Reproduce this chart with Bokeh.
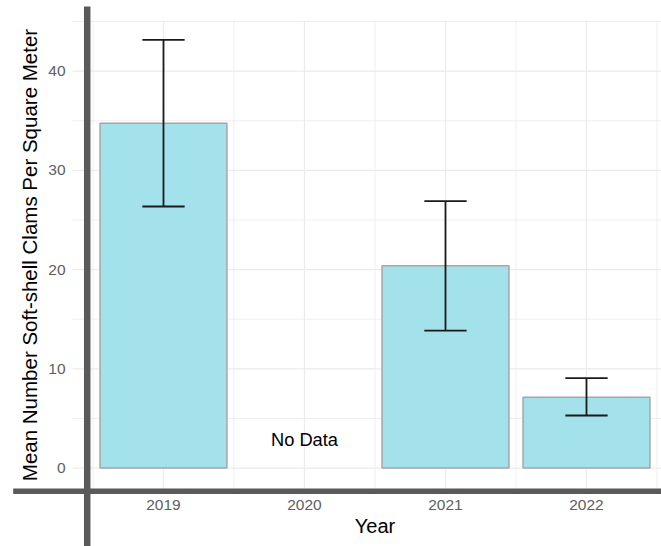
import math
from bokeh.plotting import figure
from bokeh.models import Range1d, FixedTicker
from bokeh.core.properties import value
from bokeh.embed import file_html
from bokeh.resources import INLINE

# ---- data ----
years = [2019, 2021, 2022]
means = [34.75, 20.4, 7.14]
upper = [43.15, 26.9, 9.06]
lower = [26.36, 13.85, 5.30]
tick_years = [2019, 2020, 2021, 2022]
minor_years = [2018.5, 2019.5, 2020.5, 2021.5, 2022.5]
y_ticks = [0, 10, 20, 30, 40]
y_minor = [5, 15, 25, 35, 45]
no_data_year = 2020
no_data_text = "No Data"
x_title = "Year"
y_title = "Mean Number Soft-shell Clams Per Square Meter"

FONT = "Liberation Sans"

# panel (ggplot-like) limits
x_lo, x_hi = 2018.355, 2022.645
y_lo, y_hi = -2.16, 45.1
X0, X1 = 2017.844, 2022.532
Y0, Y1 = -7.899, 47.113

p = figure(width=661, height=546, output_backend="svg", toolbar_location=None,
           x_range=Range1d(X0, X1), y_range=Range1d(Y0, Y1),
           min_border_left=0, min_border_right=0, min_border_top=0, min_border_bottom=0)
p.outline_line_color = None
p.background_fill_color = "white"
p.xgrid.visible = False
p.ygrid.visible = False

# grid lines bounded to the panel
GRID = "#ebebeb"
p.segment(x0=tick_years, x1=tick_years, y0=[y_lo] * len(tick_years), y1=[y_hi] * len(tick_years),
          line_color=GRID, line_width=1.2)
p.segment(x0=minor_years, x1=minor_years, y0=[y_lo] * len(minor_years), y1=[y_hi] * len(minor_years),
          line_color=GRID, line_width=0.8)
p.segment(x0=[x_lo] * len(y_ticks), x1=[x_hi] * len(y_ticks), y0=y_ticks, y1=y_ticks,
          line_color=GRID, line_width=1.2)
p.segment(x0=[x_lo] * len(y_minor), x1=[x_hi] * len(y_minor), y0=y_minor, y1=y_minor,
          line_color=GRID, line_width=0.8)

# axes placed at the panel edges
p.xaxis.fixed_location = y_lo
p.yaxis.fixed_location = x_lo
p.xaxis.ticker = FixedTicker(ticks=tick_years)
p.yaxis.ticker = FixedTicker(ticks=y_ticks)
for ax in (p.xaxis, p.yaxis):
    ax.axis_line_color = None
    ax.major_tick_line_color = None
    ax.minor_tick_line_color = None
    ax.major_tick_out = 0
    ax.major_tick_in = 0
    ax.major_label_text_font = FONT
    ax.major_label_text_font_size = "15.5px"
    ax.major_label_text_color = "#5e5e5e"
p.xaxis.major_label_standoff = 10
p.yaxis.major_label_standoff = 7

# axis titles (centred on the panel, as in the original)
p.text(x=[(x_lo + x_hi) / 2], y=[-5.81], text=[x_title], text_align="center",
       text_baseline="alphabetic", text_font_size="20px", text_color="black",
       text_font=value(FONT))
p.text(x=[2018.047], y=[(y_lo + y_hi) / 2], text=[y_title], angle=math.pi / 2,
       text_align="center", text_baseline="alphabetic", text_font_size="20.5px",
       text_color="black", text_font=value(FONT))

# bars
p.vbar(x=years, top=means, bottom=0, width=0.9, fill_color="#a3e1eb",
       line_color="#a6a6a6", line_width=1.5)

# error bars
cap = 0.15
p.segment(x0=years, x1=years, y0=lower, y1=upper, line_color="#1a1a1a", line_width=1.8)
p.segment(x0=[x - cap for x in years], x1=[x + cap for x in years], y0=upper, y1=upper,
          line_color="#1a1a1a", line_width=1.8)
p.segment(x0=[x - cap for x in years], x1=[x + cap for x in years], y0=lower, y1=lower,
          line_color="#1a1a1a", line_width=1.8)

# No Data label
p.text(x=[no_data_year], y=[2.9], text=[no_data_text], text_align="center",
       text_baseline="middle", text_font_size="18.3px", text_color="black",
       text_font=value(FONT))

# thick dark axis lines that run past the panel
AXC = "#5a5a5a"
p.segment(x0=[2018.459], x1=[2018.459], y0=[Y0], y1=[46.51], line_color=AXC, line_width=6.5)
p.segment(x0=[2017.934], x1=[X1], y0=[-2.34], y1=[-2.34], line_color=AXC, line_width=5.5)

open("out.html", "w").write(file_html(p, INLINE))
